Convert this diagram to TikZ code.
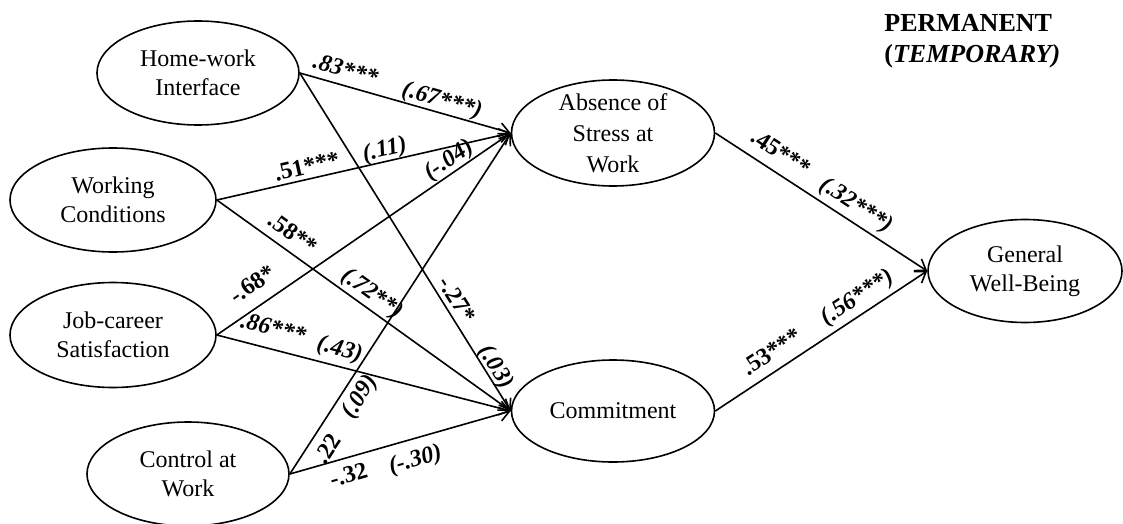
\documentclass[tikz,border=0pt]{standalone}
\usepackage{fontspec}
\setmainfont{Liberation Serif}
\usetikzlibrary{shapes.geometric,arrows.meta}
\begin{document}
\begin{tikzpicture}[x=0.5pt,y=-0.5pt,
  latent/.style={ellipse,draw,line width=0.8pt,inner sep=0pt,align=center,
    font=\fontsize{12}{14.5}\selectfont},
  conn/.style={line width=0.8pt,-{Straight Barb[length=5pt,width=7pt,line width=0.8pt]}},
  lab/.style={sloped,font=\fontsize{12}{14}\selectfont\bfseries,text height=8pt,text depth=0pt},
  labi/.style={lab,font=\fontsize{12}{14}\selectfont\bfseries\itshape},
]
\useasboundingbox (0,0) rectangle (1123,524);

% latent variables
\node[latent,minimum width=101pt,minimum height=52pt] (HW) at (198,73) {Home-work\\Interface};
\node[latent,minimum width=103pt,minimum height=52pt] (WC) at (113,200) {Working\\Conditions};
\node[latent,minimum width=103pt,minimum height=52.5pt] (JC) at (113,335) {Job-career\\Satisfaction};
\node[latent,minimum width=101pt,minimum height=52pt] (CW) at (188,474) {Control at\\Work};
\node[latent,minimum width=101.5pt,minimum height=53pt] (AS) at (613,133) {};
\node[align=center,font=\fontsize{12}{15.5}\selectfont] (AStext) at (AS.center) {Absence of\\Stress at\\Work};
\node[latent,minimum width=101.5pt,minimum height=51pt] (CM) at (613,411) {Commitment};
\node[latent,minimum width=97pt,minimum height=51.5pt] (GW) at (1025,271) {General\\Well-Being};

% title
\node[anchor=base west,font=\fontsize{13}{15}\selectfont\bfseries,inner sep=0pt] (T1) at (884,32) {PERMANENT};
\node[anchor=base west,font=\fontsize{13}{15}\selectfont\bfseries,inner sep=0pt] (T2) at (884,63) {(\textit{TEMPORARY)}};

% paths
\draw[conn] (HW.east) -- (AS.west)
  node[labi,pos=.197,above,inner sep=3.7pt] (l1) {.83***}
  node[labi,pos=.659,above,inner sep=2.5pt] (l2) {(.67***)};
\draw[conn] (HW.east) -- (CM.west)
  node[lab,pos=.692,above,inner sep=2.4pt] (l3) {-.27*}
  node[labi,pos=.887,above,inner sep=1.8pt] (l4) {(.03)};
\draw[conn] (WC.east) -- (AS.west)
  node[lab,pos=.316,above,inner sep=2.1pt] (l5) {.51***}
  node[labi,pos=.58,above,inner sep=2.2pt] (l6) {(.11)};
\draw[conn] (WC.east) -- (CM.west)
  node[lab,pos=.225,above,inner sep=4.5pt] (l7) {.58**}
  node[labi,pos=.50,above,inner sep=3.7pt] (l8) {(.72**)};
\draw[conn] (JC.east) -- (AS.west)
  node[lab,pos=.163,above,inner sep=6.5pt] (l9) {-.68*}
  node[labi,pos=.814,above,inner sep=2.6pt] (l10) {(-.04)};
\draw[conn] (JC.east) -- (CM.west)
  node[labi,pos=.175,above,inner sep=6.3pt] (l11) {.86***}
  node[labi,pos=.404,above,inner sep=4.8pt] (l12) {(.43)};
\draw[conn] (CW.east) -- (AS.west)
  node[lab,pos=.103,below,inner sep=4.4pt] (l13) {.22}
  node[labi,pos=.253,below,inner sep=3.3pt] (l14) {(.09)};
\draw[conn] (CW.east) -- (CM.west)
  node[lab,pos=.245,below,inner sep=4pt] (l15) {-.32}
  node[labi,pos=.542,below,inner sep=5.2pt] (l16) {(-.30)};
\draw[conn] (AS.east) -- (GW.west)
  node[lab,pos=.26,above,inner sep=5.5pt] (l17) {.45***}
  node[labi,pos=.625,above,inner sep=4.7pt] (l18) {(.32***)};
\draw[conn] (CM.east) -- (GW.west)
  node[lab,pos=.313,above,inner sep=5.1pt] (l19) {.53***}
  node[labi,pos=.712,above,inner sep=4.7pt] (l20) {(.56***)};
\end{tikzpicture}
\end{document}
